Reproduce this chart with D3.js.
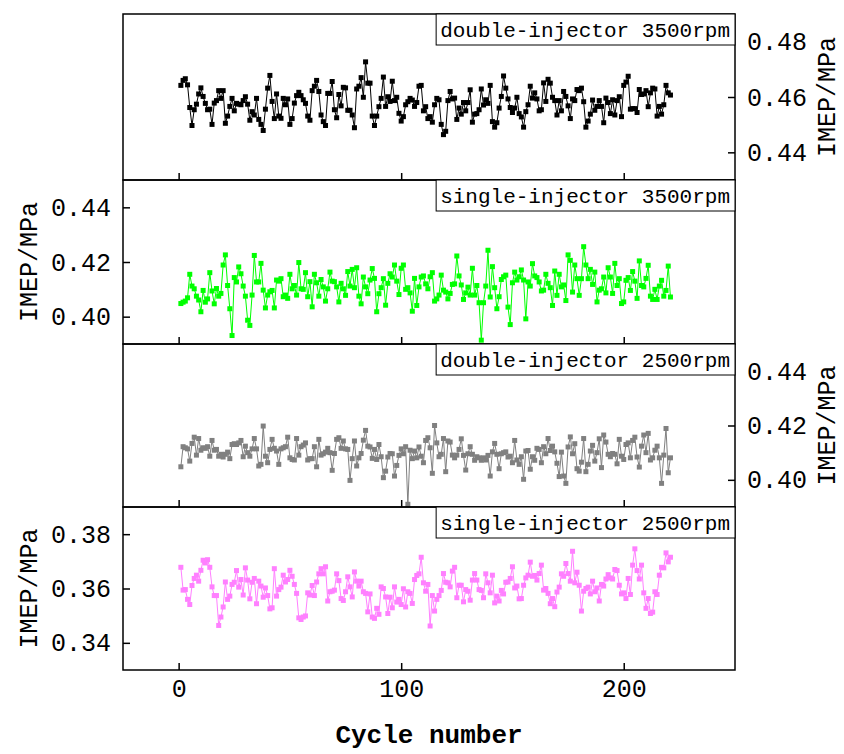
<!DOCTYPE html>
<html><head><meta charset="utf-8">
<script src="https://cdn.jsdelivr.net/npm/d3@7"></script>
<style>body{margin:0;background:#fff}svg{display:block}</style>
</head><body>
<svg id="c" width="844" height="754"></svg>
<script>
const xTicks = [0, 100, 200];
const seriesNames = ["double-injector 3500rpm", "single-injector 3500rpm", "double-injector 2500rpm", "single-injector 2500rpm"];
const yTicks1 = [0.44, 0.46, 0.48];
const yTicks2 = [0.40, 0.42, 0.44];
const yTicks3 = [0.40, 0.42, 0.44];
const yTicks4 = [0.34, 0.36, 0.38];

const double3500 = [0.4642,0.4660,0.4666,0.4644,0.4562,0.4497,0.4554,0.4574,0.4611,0.4633,0.4602,0.4577,0.4554,0.4556,0.4501,0.4578,0.4587,0.4623,0.4595,0.4623,0.4505,0.4531,0.4566,0.4595,0.4550,0.4577,0.4574,0.4572,0.4587,0.4601,0.4574,0.4516,0.4547,0.4535,0.4595,0.4519,0.4501,0.4479,0.4556,0.4632,0.4678,0.4584,0.4522,0.4611,0.4531,0.4523,0.4595,0.4572,0.4593,0.4501,0.4522,0.4578,0.4605,0.4617,0.4605,0.4590,0.4577,0.4531,0.4516,0.4623,0.4639,0.4660,0.4620,0.4535,0.4511,0.4497,0.4613,0.4613,0.4656,0.4554,0.4525,0.4609,0.4568,0.4635,
0.4633,0.4552,0.4552,0.4535,0.4489,0.4629,0.4639,0.4670,0.4599,0.4727,0.4650,0.4650,0.4531,0.4497,0.4531,0.4565,0.4595,0.4672,0.4566,0.4601,0.4584,0.4657,0.4587,0.4599,0.4541,0.4513,0.4529,0.4572,0.4583,0.4595,0.4589,0.4566,0.4580,0.4639,0.4642,0.4550,0.4565,0.4522,0.4529,0.4509,0.4572,0.4595,0.4590,0.4501,0.4464,0.4476,0.4587,0.4620,0.4593,0.4596,0.4519,0.4560,0.4538,0.4580,0.4550,0.4580,0.4626,0.4509,0.4538,0.4540,0.4554,0.4629,0.4571,0.4590,0.4577,0.4642,0.4511,0.4491,0.4507,0.4560,0.4602,0.4676,0.4632,0.4593,0.4562,
0.4544,0.4560,0.4599,0.4540,0.4528,0.4491,0.4547,0.4572,0.4639,0.4596,0.4615,0.4593,0.4550,0.4554,0.4651,0.4584,0.4664,0.4650,0.4599,0.4587,0.4535,0.4587,0.4550,0.4620,0.4602,0.4568,0.4522,0.4593,0.4587,0.4627,0.4623,0.4632,0.4583,0.4491,0.4513,0.4538,0.4589,0.4552,0.4566,0.4587,0.4566,0.4507,0.4596,0.4580,0.4540,0.4590,0.4535,0.4587,0.4601,0.4529,0.4642,0.4654,0.4675,0.4556,0.4558,0.4558,0.4544,0.4627,0.4609,0.4611,0.4623,0.4565,0.4615,0.4632,0.4629,0.4531,0.4566,0.4538,0.4572,0.4642,0.4615,0.4607];

const single3500 = [0.4048,0.4053,0.4057,0.4069,0.4155,0.4112,0.4102,0.4075,0.4061,0.4018,0.4096,0.4053,0.4065,0.4161,0.4094,0.4047,0.4103,0.4075,0.4085,0.4189,0.4226,0.4114,0.4029,0.3931,0.4143,0.4127,0.4182,0.4157,0.4112,0.4075,0.3987,0.3968,0.4079,0.4224,0.4127,0.4127,0.4195,0.4097,0.4032,0.4079,0.4091,0.4096,0.4032,0.4134,0.4130,0.4139,0.4073,0.4079,0.4067,0.4155,0.4102,0.4114,0.4079,0.4198,0.4102,0.4100,0.4161,0.4073,0.4128,0.4036,0.4155,0.4124,0.4075,0.4136,0.4109,0.4057,0.4102,0.4163,0.4130,0.4128,0.4109,0.4054,0.4122,0.4102,0.4078,
0.4165,0.4112,0.4173,0.4106,0.4179,0.4075,0.4047,0.4145,0.4109,0.4084,0.4134,0.4176,0.4140,0.4018,0.4084,0.4106,0.4139,0.4042,0.4122,0.4157,0.4145,0.4189,0.4130,0.4081,0.4177,0.4189,0.4100,0.4106,0.4087,0.4020,0.4140,0.4041,0.4109,0.4145,0.4149,0.4120,0.4102,0.4146,0.4161,0.4057,0.4065,0.4079,0.4152,0.4097,0.4090,0.4065,0.4085,0.4118,0.4120,0.4222,0.4149,0.4116,0.4063,0.4087,0.4108,0.4079,0.4177,0.4079,0.4114,0.4051,0.3914,0.4051,0.4112,0.4243,0.4072,0.4183,0.4106,0.4029,0.4073,0.4136,0.4146,0.4152,0.4035,0.3971,
0.4124,0.4163,0.4134,0.4146,0.4171,0.4134,0.3992,0.4127,0.4112,0.4194,0.4149,0.4143,0.4127,0.4094,0.4097,0.4155,0.4122,0.4106,0.4041,0.4167,0.4078,0.4155,0.4109,0.4116,0.4059,0.4226,0.4206,0.4090,0.4189,0.4139,0.4078,0.4139,0.4256,0.4189,0.4139,0.4173,0.4118,0.4163,0.4054,0.4097,0.4102,0.4145,0.4087,0.4179,0.4145,0.4085,0.4195,0.4114,0.4139,0.4048,0.4054,0.4133,0.4143,0.4096,0.4165,0.4130,0.4067,0.4204,0.4114,0.4109,0.4140,0.4188,0.4075,0.4063,0.4100,0.4063,0.4112,0.4133,0.4075,0.4096,0.4185,0.4072];

const double2500 = [0.4048,0.4122,0.4118,0.4114,0.4069,0.4134,0.4157,0.4091,0.4152,0.4109,0.4118,0.4116,0.4122,0.4087,0.4145,0.4109,0.4112,0.4087,0.4094,0.4084,0.4094,0.4102,0.4078,0.4130,0.4133,0.4130,0.4136,0.4145,0.4085,0.4124,0.4100,0.4087,0.4114,0.4152,0.4114,0.4051,0.4057,0.4198,0.4087,0.4063,0.4112,0.4149,0.4116,0.4106,0.4057,0.4114,0.4118,0.4122,0.4157,0.4081,0.4075,0.4073,0.4152,0.4091,0.4122,0.4128,0.4136,0.4073,0.4078,0.4078,0.4122,0.4048,0.4149,0.4091,0.4096,0.4102,0.4116,0.4100,0.4035,0.4097,0.4149,0.4155,0.4116,0.4143,0.4114,
0.4112,0.3998,0.4078,0.4143,0.4051,0.4081,0.4097,0.4146,0.4182,0.4124,0.4121,0.4079,0.4112,0.4075,0.4130,0.4085,0.4008,0.4032,0.4084,0.4097,0.4096,0.4014,0.4053,0.4090,0.4114,0.4096,0.4122,0.3910,0.4109,0.4078,0.4106,0.4081,0.4121,0.4087,0.4063,0.4145,0.4155,0.4118,0.4024,0.4200,0.4136,0.4085,0.4094,0.4152,0.4030,0.4143,0.4139,0.4091,0.4081,0.4091,0.4112,0.4151,0.4090,0.4036,0.4096,0.4122,0.4094,0.4072,0.4085,0.4081,0.4072,0.4081,0.4073,0.4090,0.4014,0.4103,0.4134,0.4094,0.4041,0.4096,0.4100,0.4103,0.4084,0.4087,
0.4063,0.4145,0.4073,0.4057,0.4085,0.4002,0.4106,0.4108,0.4039,0.4085,0.4072,0.4116,0.4112,0.4063,0.4122,0.4096,0.4152,0.4108,0.4124,0.4103,0.4061,0.4012,0.4102,0.4014,0.3987,0.4121,0.4158,0.4096,0.4133,0.4041,0.4032,0.4065,0.4152,0.4030,0.4057,0.4106,0.4127,0.4069,0.4100,0.4151,0.4045,0.4165,0.4139,0.4094,0.4085,0.4097,0.4094,0.4059,0.4149,0.4087,0.4075,0.4130,0.4136,0.4081,0.4145,0.4157,0.4084,0.4047,0.4124,0.4165,0.4100,0.4171,0.4073,0.4081,0.4109,0.4124,0.4081,0.3987,0.4091,0.4189,0.4026,0.4081];

const single2500 = [0.3678,0.3594,0.3596,0.3560,0.3541,0.3611,0.3637,0.3649,0.3627,0.3667,0.3704,0.3694,0.3706,0.3678,0.3606,0.3574,0.3574,0.3464,0.3495,0.3532,0.3624,0.3560,0.3572,0.3615,0.3623,0.3666,0.3605,0.3633,0.3576,0.3676,0.3631,0.3562,0.3623,0.3637,0.3544,0.3627,0.3609,0.3568,0.3602,0.3574,0.3525,0.3529,0.3673,0.3572,0.3596,0.3605,0.3649,0.3624,0.3633,0.3667,0.3645,0.3615,0.3582,0.3492,0.3486,0.3495,0.3499,0.3584,0.3576,0.3611,0.3574,0.3624,0.3654,0.3673,0.3654,0.3680,0.3554,0.3588,0.3590,0.3594,0.3654,0.3629,0.3563,0.3556,0.3588,
0.3643,0.3606,0.3569,0.3661,0.3627,0.3609,0.3627,0.3588,0.3582,0.3514,0.3580,0.3495,0.3490,0.3527,0.3505,0.3606,0.3600,0.3569,0.3508,0.3568,0.3529,0.3606,0.3550,0.3560,0.3541,0.3599,0.3532,0.3588,0.3582,0.3545,0.3633,0.3648,0.3654,0.3715,0.3621,0.3590,0.3615,0.3462,0.3574,0.3517,0.3560,0.3574,0.3593,0.3655,0.3623,0.3621,0.3606,0.3664,0.3678,0.3566,0.3612,0.3612,0.3551,0.3596,0.3590,0.3557,0.3631,0.3655,0.3631,0.3596,0.3593,0.3566,0.3654,0.3621,0.3584,0.3649,0.3547,0.3572,0.3554,0.3593,0.3580,0.3623,0.3624,0.3637,
0.3680,0.3602,0.3609,0.3562,0.3563,0.3612,0.3639,0.3649,0.3697,0.3645,0.3648,0.3631,0.3655,0.3686,0.3594,0.3600,0.3582,0.3544,0.3563,0.3533,0.3587,0.3605,0.3654,0.3645,0.3692,0.3655,0.3627,0.3737,0.3621,0.3660,0.3612,0.3517,0.3590,0.3600,0.3605,0.3580,0.3627,0.3588,0.3602,0.3554,0.3615,0.3609,0.3635,0.3651,0.3639,0.3635,0.3670,0.3666,0.3612,0.3580,0.3584,0.3563,0.3637,0.3578,0.3686,0.3746,0.3666,0.3635,0.3686,0.3584,0.3527,0.3563,0.3508,0.3513,0.3588,0.3578,0.3649,0.3678,0.3676,0.3731,0.3698,0.3715];

const panels = [
  {name: seriesNames[0], values: double3500, color: "#000000", domain: [0.43, 0.49], ticks: yTicks1, side: "right"},
  {name: seriesNames[1], values: single3500, color: "#00ff00", domain: [0.39, 0.45], ticks: yTicks2, side: "left"},
  {name: seriesNames[2], values: double2500, color: "#808080", domain: [0.39, 0.45], ticks: yTicks3, side: "right"},
  {name: seriesNames[3], values: single2500, color: "#ff80ff", domain: [0.33, 0.39], ticks: yTicks4, side: "left"}
];

const FONT = "'Liberation Mono', 'DejaVu Sans Mono', monospace";
const svg = d3.select("#c");
const L = 123, R = 735;
const edges = [14, 180, 344, 507, 670];
const x = d3.scaleLinear().domain([-25, 250]).range([L, R]);
const fmt = d3.format(".2f");

panels.forEach((p, i) => {
  const top = edges[i], bot = edges[i + 1];
  const y = d3.scaleLinear().domain(p.domain).range([bot, top]);
  const g = svg.append("g");
  const cyc = p.values.map((v, j) => j + 1);

  g.append("path")
    .datum(p.values)
    .attr("d", d3.line().x((d, j) => x(cyc[j])).y(d => y(d)))
    .attr("fill", "none").attr("stroke", p.color).attr("stroke-width", 1);

  g.selectAll("rect.m").data(p.values).join("rect").attr("class", "m")
    .attr("x", (d, j) => x(cyc[j]) - 2.5).attr("y", d => y(d) - 2.5)
    .attr("width", 5).attr("height", 5).attr("fill", p.color);

  const xa = d3.axisBottom(x).tickValues(xTicks).tickSizeInner(-7).tickSizeOuter(0).tickPadding(9)
    .tickFormat(i === 3 ? d3.format("d") : () => "");
  const gx = g.append("g").attr("transform", `translate(0,${bot})`).call(xa);
  gx.select(".domain").remove();
  gx.selectAll("line").attr("stroke", "#000").attr("stroke-width", 1.5);
  gx.selectAll("text").attr("font-family", FONT).attr("font-size", 25).attr("fill", "#000");

  const ya = (p.side === "right" ? d3.axisRight(y) : d3.axisLeft(y))
    .tickValues(p.ticks).tickFormat(fmt).tickSizeInner(-7).tickSizeOuter(0).tickPadding(12);
  const gy = g.append("g").attr("transform", `translate(${p.side === "right" ? R : L},0)`).call(ya);
  gy.select(".domain").remove();
  gy.selectAll("line").attr("stroke", "#000").attr("stroke-width", 1.5);
  gy.selectAll("text").attr("font-family", FONT).attr("font-size", 25).attr("fill", "#000");

  const tx = p.side === "right" ? 828 : 30;
  g.append("text").attr("transform", `translate(${tx},${(top + bot) / 2}) rotate(-90)`)
    .attr("text-anchor", "middle").attr("dominant-baseline", "central")
    .attr("font-family", FONT).attr("font-size", 25).attr("fill", "#000")
    .text("IMEP/MPa");

  g.append("rect").attr("x", L).attr("y", top).attr("width", R - L).attr("height", bot - top)
    .attr("fill", "none").attr("stroke", "#000").attr("stroke-width", 1.5);

  const lg = g.append("g");
  const box = lg.append("rect").attr("fill", "#fff").attr("stroke", "#000").attr("stroke-width", 1);
  const t = lg.append("text").attr("font-family", FONT).attr("font-size", 21).attr("fill", "#000")
    .attr("text-anchor", "end").attr("x", R - 5).attr("y", top + 23).text(p.name);
  const w = t.node().getComputedTextLength();
  box.attr("x", R - w - 9).attr("y", top).attr("width", w + 9).attr("height", 31);
});

svg.append("text").attr("x", (L + R) / 2).attr("y", 736).attr("text-anchor", "middle")
  .attr("dominant-baseline", "central")
  .attr("font-family", FONT).attr("font-size", 26).attr("font-weight", "bold").attr("fill", "#000")
  .text("Cycle number");
</script>
</body></html>
